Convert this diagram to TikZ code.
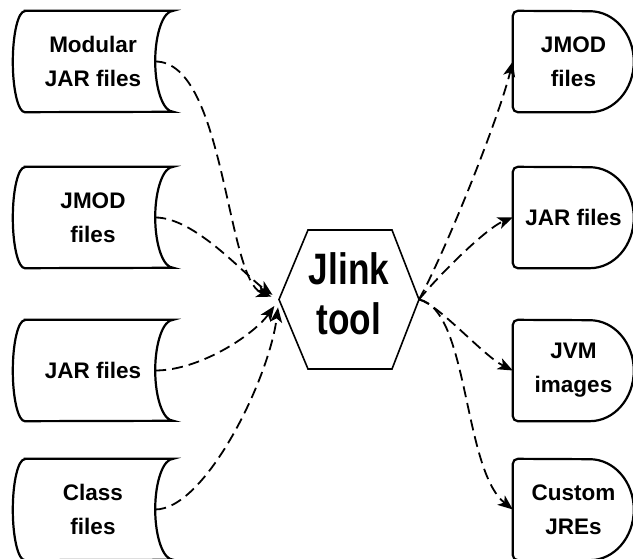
\documentclass[tikz,border=0pt]{standalone}
\usepackage{fontspec}
\setmainfont{Liberation Sans}
\newfontfamily\toolfont{Liberation Sans}[FakeStretch=0.8]
\usetikzlibrary{arrows.meta}
\tikzset{
	srcbox/.style={minimum width=160pt, minimum height=101pt, inner sep=0pt, align=center, font=\bfseries\fontsize{22.5}{34}\selectfont},
	outbox/.style={minimum width=121pt, minimum height=101pt, inner sep=0pt, align=center, font=\bfseries\fontsize{22.5}{34}\selectfont},
	outline/.style={line width=2.2pt},
	dasharrow/.style={line width=1.8pt, dash pattern=on 11pt off 6pt, -{Stealth[length=15pt,width=12pt,inset=4pt]}}
}
\begin{document}
\begin{tikzpicture}[x=1pt,y=1pt]
	\useasboundingbox (0,0) rectangle (633,559);
	% inputs
	\node[srcbox] (modjar) at (93,497.5) {Modular\\JAR files};
	\node[srcbox] (jmodin) at (93,341.5) {JMOD\\files};
	\node[srcbox] (jarin) at (93,188.5) {JAR files};
	\node[srcbox] (classin) at (93,49.5) {Class\\files};
	\foreach \n in {modjar,jmodin,jarin,classin}
		\draw[outline] ([xshift=12pt]\n.north west) -- (\n.north east) arc[start angle=90, end angle=270, x radius=18pt, y radius=50.5pt] -- ([xshift=12pt]\n.south west) arc[start angle=270, end angle=90, x radius=12pt, y radius=50.5pt] -- cycle;
	% outputs
	\node[outbox] (jmodout) at (573.5,497.5) {JMOD\\files};
	\node[outbox] (jarout) at (573.5,341.5) {JAR files};
	\node[outbox] (jvm) at (573.5,188.5) {JVM\\images};
	\node[outbox] (jre) at (573.5,49.5) {Custom\\JREs};
	\foreach \n in {jmodout,jarout,jvm,jre}
		\draw[outline] ([xshift=77pt]\n.south west) arc[start angle=-90, end angle=90, x radius=44pt, y radius=50.5pt] [rounded corners=5pt] -- (\n.north west) -- (\n.south west) -- ([xshift=77pt]\n.south west);
	% tool
	\coordinate (hexNW) at (308,329);
	\coordinate (hexNE) at (392,329);
	\coordinate (hexE) at (419,259.5);
	\coordinate (hexSE) at (392,190);
	\coordinate (hexSW) at (308,190);
	\coordinate (hexW) at (279,259.5);
	\draw[line width=1.6pt] (hexNW) -- (hexNE) -- (hexE) -- (hexSE) -- (hexSW) -- (hexW) -- cycle;
	\node[align=center, font=\toolfont\bfseries\fontsize{44}{50}\selectfont] (tool) at (349,265) {Jlink\\tool};
	% connectors
	\draw[dasharrow, shorten >=8pt] ([xshift=-18pt]modjar.east) .. controls +(70,0) and +(-53,20) .. (hexW);
	\draw[dasharrow, shorten >=8pt] ([xshift=-18pt]jmodin.east) .. controls +(40,0) and +(-35,25) .. (hexW);
	\draw[dasharrow, shorten >=8pt] ([xshift=-18pt]jarin.east) .. controls +(45,0) and +(-25,-35) .. (hexW);
	\draw[dasharrow, shorten >=8pt] ([xshift=-18pt]classin.east) .. controls +(50,0) and +(-10,-80) .. (hexW);
	\draw[dasharrow] (hexE) .. controls +(25,45) and +(-15,-60) .. (jmodout.west);
	\draw[dasharrow] (hexE) .. controls +(25,30) and +(-25,-10) .. (jarout.west);
	\draw[dasharrow] (hexE) .. controls +(20,-5) and +(-30,15) .. (jvm.west);
	\draw[dasharrow] (hexE) .. controls +(50,-10) and +(-50,40) .. (jre.west);
\end{tikzpicture}
\end{document}
